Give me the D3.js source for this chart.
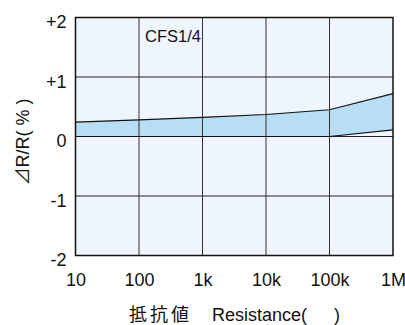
<!DOCTYPE html>
<html><head><meta charset="utf-8">
<script src="https://cdn.jsdelivr.net/npm/d3@7"></script>
<style>body{margin:0;background:#fff}svg{display:block}</style>
</head><body><svg id="c" width="405" height="325"></svg>
<script>
const resist = [10, 100, 1000, 10000, 100000, 1000000];
const upper = [0.24, 0.28, 0.32, 0.37, 0.45, 0.72];
const lower = [0, 0, 0, 0, 0, 0.11];
const xTickLabels = ["10", "100", "1k", "10k", "100k", "1M"];
const yTicks = [-2, -1, 0, 1, 2];
const yTickLabels = ["-2", "-1", "0", "+1", "+2"];
const seriesName = "CFS1/4";

const svg = d3.select("#c");
const x = d3.scaleLog().domain([10, 1e6]).range([75.5, 393]);
const y = d3.scaleLinear().domain([-2, 2]).range([255.5, 17.5]);
const font = "'Liberation Sans', Arial, sans-serif";

svg.append("rect").attr("x", x(10)).attr("y", y(2)).attr("width", x(1e6) - x(10)).attr("height", y(-2) - y(2)).attr("fill", "#eef5fc");

const data = resist.map((r, i) => ({r, u: upper[i], l: lower[i]}));
svg.append("path").datum(data)
  .attr("d", d3.area().x(d => x(d.r)).y0(d => y(d.l)).y1(d => y(d.u)))
  .attr("fill", "#b7def5");

// grid
svg.append("g").selectAll("line").data(resist.slice(1, -1)).join("line")
  .attr("x1", d => x(d)).attr("x2", d => x(d)).attr("y1", y(2)).attr("y2", y(-2))
  .attr("stroke", "#333").attr("stroke-width", 1);
svg.append("g").selectAll("line").data(yTicks.slice(1, -1)).join("line")
  .attr("y1", d => y(d)).attr("y2", d => y(d)).attr("x1", x(10)).attr("x2", x(1e6))
  .attr("stroke", "#222").attr("stroke-width", 1.2);

const line = d3.line().x(d => x(d[0])).y(d => y(d[1]));
svg.append("path").datum(resist.map((r, i) => [r, upper[i]])).attr("d", line).attr("fill", "none").attr("stroke", "#111").attr("stroke-width", 1.2);
svg.append("path").datum(resist.map((r, i) => [r, lower[i]])).attr("d", line).attr("fill", "none").attr("stroke", "#111").attr("stroke-width", 1.2);

svg.append("rect").attr("x", x(10)).attr("y", y(2)).attr("width", x(1e6) - x(10)).attr("height", y(-2) - y(2)).attr("fill", "none").attr("stroke", "#111").attr("stroke-width", 1.5);

// axes
const xa = svg.append("g").attr("transform", `translate(0,${y(-2)})`)
  .call(d3.axisBottom(x).tickValues(resist).tickFormat((d, i) => xTickLabels[i]).tickSize(0).tickPadding(18));
xa.select(".domain").remove();
xa.selectAll("text").attr("font-family", font).attr("font-size", 18).attr("fill", "#111");

const ya = svg.append("g").attr("transform", `translate(${x(10)},0)`)
  .call(d3.axisLeft(y).tickValues(yTicks).tickFormat((d, i) => yTickLabels[i]).tickSize(0).tickPadding(9));
ya.select(".domain").remove();
ya.selectAll("text").attr("font-family", font).attr("font-size", 18).attr("fill", "#111").attr("dy", "0.56em");

svg.append("text").attr("x", 145).attr("y", 42).attr("font-family", font).attr("font-size", 16.5).attr("fill", "#111").text(seriesName);

const yl = svg.append("text").attr("transform", "translate(29,142) rotate(-90)").attr("text-anchor", "middle")
  .attr("font-family", font).attr("font-size", 18).attr("fill", "#111");
yl.append("tspan").attr("font-family", "'Noto Sans CJK JP', sans-serif").text("⊿");
yl.append("tspan").text("R/R( % )");

const xl = svg.append("text").attr("y", 321).attr("font-family", font).attr("font-size", 18).attr("fill", "#111");
xl.append("tspan").attr("x", 129).attr("font-family", "'Noto Sans CJK JP', sans-serif").attr("font-size", 18).attr("letter-spacing", 3).text("抵抗値");
xl.append("tspan").attr("x", 212).text("Resistance(");
xl.append("tspan").attr("x", 334).text(")");
</script></body></html>
